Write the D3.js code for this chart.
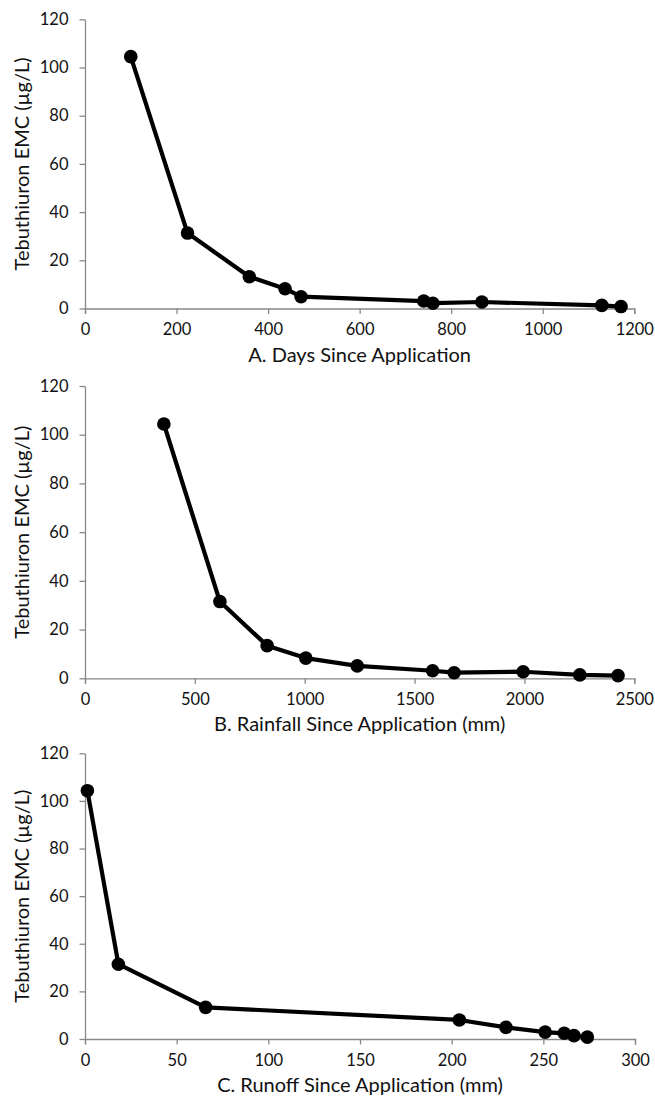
<html>
	<head>
		<title>Tebuthiuron EMC</title>
		<script src="https://d3js.org/d3.v7.min.js" charset="utf-8"></script>
		<style>
		body {
			margin: 0;
			background: white;
			font-family: "Lato", "Open Sans", sans-serif;
			}
		.axis path, .axis line {
			stroke: #888;
			stroke-width: 1.3px;
			}
		.axis text {
			font-family: "Lato", sans-serif;
			font-size: 16.5px;
			fill: #111;
			}
		</style>
	</head>
	<body>
	<script>
	//size of the page
	var width = 655;
	var height = 1097;

	//panel A - days since application
	var daysX = [100, 224, 359, 437, 472, 740, 760, 867, 1129, 1171];
	var daysY = [104.5, 31.3, 13.2, 8.2, 4.9, 3.1, 2.2, 2.7, 1.3, 0.8];

	//panel B - rainfall since application (mm)
	var rainX = [359, 614, 829, 1005, 1239, 1582, 1680, 1994, 2252, 2426];
	var rainY = [104.4, 31.5, 13.4, 8.3, 5.1, 3.1, 2.3, 2.7, 1.4, 1.1];

	//panel C - runoff since application (mm)
	var runoffX = [1.3, 18.2, 65.8, 204.2, 229.6, 251, 261.4, 266.7, 274];
	var runoffY = [104.3, 31.4, 13.3, 8.0, 4.9, 2.9, 2.4, 1.4, 0.8];

	//tick values
	var yTicks = [0, 20, 40, 60, 80, 100, 120];
	var daysTicks = [0, 200, 400, 600, 800, 1000, 1200];
	var rainTicks = [0, 500, 1000, 1500, 2000, 2500];
	var runoffTicks = [0, 50, 100, 150, 200, 250, 300];

	var yTitle = "Tebuthiuron EMC (\u00b5g/L)";

	var panels = [
		{xs: daysX, ys: daysY, ticks: daysTicks, max: 1200, top: 19.3, bottom: 308.5, right: 634.3,
			title: "A. Days Since Application"},
		{xs: rainX, ys: rainY, ticks: rainTicks, max: 2500, top: 386, bottom: 678.3, right: 634.3,
			title: "B. Rainfall Since Application (mm)"},
		{xs: runoffX, ys: runoffY, ticks: runoffTicks, max: 300, top: 753.3, bottom: 1039, right: 635,
			title: "C. Runoff Since Application (mm)"}
	];

	var left = 85;

	var svg = d3.select("body")
		.append("svg")
		.attr("width", width)
		.attr("height", height);

	panels.forEach(function(p) {
		var x = d3.scaleLinear().domain([0, p.max]).range([left, p.right]);
		var y = d3.scaleLinear().domain([0, 120]).range([p.bottom, p.top]);

		var g = svg.append("g");

		//x axis
		g.append("g")
			.attr("class", "axis")
			.attr("transform", "translate(0," + p.bottom + ")")
			.call(d3.axisBottom(x).tickValues(p.ticks).tickFormat(d3.format("d"))
				.tickSize(5.5).tickPadding(7).tickSizeOuter(5.5))
			.selectAll("text").attr("dy", "0.85em");

		//y axis
		g.append("g")
			.attr("class", "axis")
			.attr("transform", "translate(" + left + ",0)")
			.call(d3.axisLeft(y).tickValues(yTicks).tickFormat(d3.format("d"))
				.tickSize(5.5).tickPadding(11).tickSizeOuter(0));

		//axis titles
		g.append("text")
			.attr("x", (left + p.right) / 2)
			.attr("y", p.bottom + 53)
			.attr("text-anchor", "middle")
			.style("font-size", "20px")
			.style("fill", "#111")
			.text(p.title);

		g.append("text")
			.attr("transform", "translate(29," + (p.top + p.bottom) / 2 + ") rotate(-90)")
			.attr("text-anchor", "middle")
			.style("font-size", "20px")
			.style("fill", "#111")
			.text(yTitle);

		var pts = p.xs.map(function(d, i) { return [d, p.ys[i]]; });

		//the line
		g.append("path")
			.datum(pts)
			.attr("fill", "none")
			.attr("stroke", "black")
			.attr("stroke-width", 4.2)
			.attr("stroke-linejoin", "round")
			.attr("d", d3.line().x(function(d) { return x(d[0]); }).y(function(d) { return y(d[1]); }));

		//markers
		g.selectAll("circle")
			.data(pts)
			.enter()
			.append("circle")
			.attr("r", 6.8)
			.attr("fill", "black")
			.attr("cx", function(d) { return x(d[0]); })
			.attr("cy", function(d) { return y(d[1]); });
	});
	</script>
	</body>
</html>
